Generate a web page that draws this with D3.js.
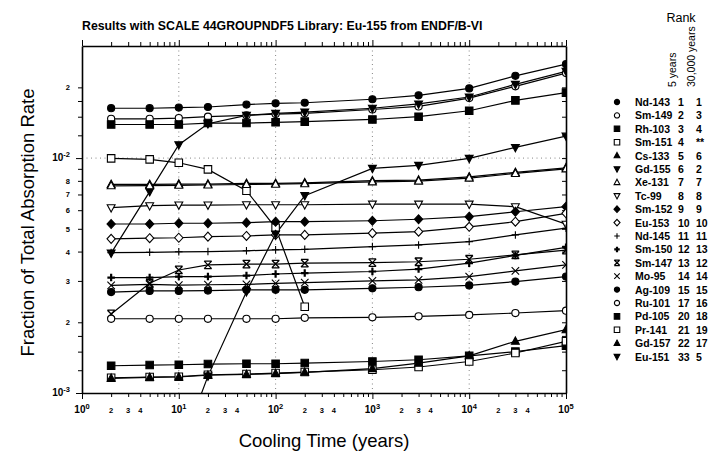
<!DOCTYPE html>
<html>
<head>
<meta charset="utf-8">
<script src="https://cdn.jsdelivr.net/npm/d3@7"></script>
<style>
  body { margin: 0; background: #fff; }
  svg { display: block; }
  text { font-family: "Liberation Sans", Arial, Helvetica, sans-serif; fill: #000; }
</style>
</head>
<body>
<div id="chart"></div>
<script>
// cooling times (years) where every nuclide was evaluated
const years = [2, 5, 10, 20, 50, 100, 200, 1000, 3000, 10000, 30000, 100000];

// fraction of total absorption rate
const nd143 = [1.63e-2, 1.63e-2, 1.64e-2, 1.65e-2, 1.69e-2, 1.71e-2, 1.72e-2, 1.78e-2, 1.85e-2, 1.98e-2, 2.24e-2, 2.51e-2];
const sm149 = [1.47e-2, 1.47e-2, 1.48e-2, 1.50e-2, 1.52e-2, 1.54e-2, 1.55e-2, 1.61e-2, 1.66e-2, 1.80e-2, 2.02e-2, 2.30e-2];
const rh103 = [1.39e-2, 1.39e-2, 1.39e-2, 1.41e-2, 1.41e-2, 1.42e-2, 1.43e-2, 1.46e-2, 1.50e-2, 1.59e-2, 1.76e-2, 1.90e-2];
const sm151 = [9.97e-3, 9.87e-3, 9.55e-3, 8.95e-3, 7.26e-3, 5.05e-3, 2.33e-3, null, null, null, null, null];
const cs133 = [7.73e-3, 7.73e-3, 7.75e-3, 7.75e-3, 7.80e-3, 7.80e-3, 7.85e-3, 8.01e-3, 8.06e-3, 8.32e-3, 8.69e-3, 9.09e-3];
const gd155 = [3.94e-3, 7.2e-3, 1.14e-2, 1.40e-2, 1.52e-2, 1.55e-2, 1.57e-2, 1.63e-2, 1.70e-2, 1.82e-2, 2.06e-2, 2.34e-2];
const xe131 = [7.62e-3, 7.63e-3, 7.66e-3, 7.68e-3, 7.72e-3, 7.74e-3, 7.78e-3, 7.92e-3, 7.98e-3, 8.22e-3, 8.60e-3, 9.00e-3];
const tc99  = [6.15e-3, 6.27e-3, 6.31e-3, 6.31e-3, 6.33e-3, 6.33e-3, 6.33e-3, 6.37e-3, 6.37e-3, 6.37e-3, 6.21e-3, 5.23e-3];
const sm152 = [5.24e-3, 5.24e-3, 5.28e-3, 5.28e-3, 5.31e-3, 5.36e-3, 5.36e-3, 5.41e-3, 5.49e-3, 5.63e-3, 5.91e-3, 6.21e-3];
const eu153 = [4.53e-3, 4.56e-3, 4.58e-3, 4.63e-3, 4.66e-3, 4.71e-3, 4.71e-3, 4.79e-3, 4.86e-3, 5.10e-3, 5.36e-3, 5.82e-3];
const nd145 = [3.96e-3, 3.97e-3, 3.99e-3, 4.00e-3, 4.03e-3, 4.07e-3, 4.09e-3, 4.20e-3, 4.27e-3, 4.41e-3, 4.71e-3, 5.03e-3];
const sm150 = [3.10e-3, 3.10e-3, 3.13e-3, 3.13e-3, 3.16e-3, 3.21e-3, 3.24e-3, 3.29e-3, 3.37e-3, 3.57e-3, 3.85e-3, 4.17e-3];
const sm147 = [2.17e-3, 2.93e-3, 3.34e-3, 3.51e-3, 3.54e-3, 3.54e-3, 3.57e-3, 3.59e-3, 3.62e-3, 3.71e-3, 3.87e-3, 4.06e-3];
const mo95  = [2.87e-3, 2.90e-3, 2.88e-3, 2.89e-3, 2.90e-3, 2.93e-3, 2.95e-3, 3.00e-3, 3.03e-3, 3.13e-3, 3.31e-3, 3.51e-3];
const ag109 = [2.69e-3, 2.72e-3, 2.72e-3, 2.73e-3, 2.75e-3, 2.75e-3, 2.75e-3, 2.79e-3, 2.82e-3, 2.87e-3, 2.98e-3, 3.13e-3];
const ru101 = [2.07e-3, 2.07e-3, 2.07e-3, 2.07e-3, 2.07e-3, 2.07e-3, 2.09e-3, 2.10e-3, 2.12e-3, 2.15e-3, 2.19e-3, 2.24e-3];
const pd105 = [1.306e-3, 1.315e-3, 1.319e-3, 1.328e-3, 1.332e-3, 1.332e-3, 1.341e-3, 1.362e-3, 1.385e-3, 1.44e-3, 1.50e-3, 1.59e-3];
const pr141 = [1.161e-3, 1.17e-3, 1.173e-3, 1.196e-3, 1.204e-3, 1.216e-3, 1.228e-3, 1.256e-3, 1.29e-3, 1.362e-3, 1.48e-3, 1.66e-3];
const gd157 = [1.155e-3, 1.165e-3, 1.17e-3, 1.19e-3, 1.20e-3, 1.21e-3, 1.225e-3, 1.27e-3, 1.34e-3, 1.44e-3, 1.66e-3, 1.86e-3];
const eu151 = [null, null, 5.5e-4, 1.18e-3, 2.70e-3, 4.75e-3, 6.92e-3, 9.04e-3, 9.31e-3, 9.97e-3, 1.11e-2, 1.24e-2];

// legend: name, marker, rank at 5 years, rank at 30,000 years
const names   = ["Nd-143", "Sm-149", "Rh-103", "Sm-151", "Cs-133", "Gd-155", "Xe-131", "Tc-99", "Sm-152", "Eu-153",
                 "Nd-145", "Sm-150", "Sm-147", "Mo-95", "Ag-109", "Ru-101", "Pd-105", "Pr-141", "Gd-157", "Eu-151"];
const markers = ["dot", "circle", "square", "osquare", "tri", "dtri", "otri", "odtri", "diamond", "odiamond",
                 "plus", "bplus", "bowtie", "cross", "dot", "circle", "square", "osquare", "tri", "dtri"];
const rank5   = ["1", "2", "3", "4", "5", "6", "7", "8", "9", "10", "11", "12", "13", "14", "15", "17", "20", "21", "22", "33"];
const rank30k = ["1", "3", "4", "**", "6", "2", "7", "8", "9", "10", "11", "13", "12", "14", "15", "16", "18", "19", "17", "5"];
const values  = [nd143, sm149, rh103, sm151, cs133, gd155, xe131, tc99, sm152, eu153,
                 nd145, sm150, sm147, mo95, ag109, ru101, pd105, pr141, gd157, eu151];

const W = 716, H = 454;
const MARGIN = { LEFT: 82, TOP: 46, RIGHT: 150, BOTTOM: 61 };
const WIDTH = W - MARGIN.LEFT - MARGIN.RIGHT;
const HEIGHT = H - MARGIN.TOP - MARGIN.BOTTOM;

const svg = d3.select("#chart").append("svg")
    .attr("width", W)
    .attr("height", H);

const g = svg.append("g")
    .attr("transform", `translate(${MARGIN.LEFT},${MARGIN.TOP})`);

const x = d3.scaleLog().domain([1, 1e5]).range([0, WIDTH]);
const y = d3.scaleLog().domain([1e-3, 3e-2]).range([HEIGHT, 0]);

// tick lists
const xTicks = [];
for (let d = 0; d < 5; d++) for (let k = 1; k < 10; k++) xTicks.push(k * 10 ** d);
xTicks.push(1e5);
const yTicks = [1e-3, 1.25e-3, 1.5e-3, 1.75e-3, 2e-3, 3e-3, 4e-3, 5e-3, 6e-3, 7e-3, 8e-3, 9e-3,
                1e-2, 1.25e-2, 1.5e-2, 1.75e-2, 2e-2];
const isDecade = v => Math.abs(Math.log10(v) - Math.round(Math.log10(v))) < 1e-9;
const mant = v => v / 10 ** Math.floor(Math.log10(v) + 1e-9);

// dotted grid
g.append("g").selectAll("line")
    .data([10, 100, 1000, 10000])
    .enter().append("line")
    .attr("x1", d => x(d)).attr("x2", d => x(d))
    .attr("y1", 0).attr("y2", HEIGHT)
    .attr("stroke", "#666").attr("stroke-width", 0.8)
    .attr("stroke-dasharray", "1,3.5");
g.append("line")
    .attr("x1", 0).attr("x2", WIDTH)
    .attr("y1", y(1e-2)).attr("y2", y(1e-2))
    .attr("stroke", "#666").attr("stroke-width", 0.8)
    .attr("stroke-dasharray", "1,3.5");

// axes
const styleAxis = sel => {
    sel.select(".domain").attr("stroke", "#000").attr("stroke-width", 1.6);
    sel.selectAll(".tick line").attr("stroke", "#000").attr("stroke-width", 1);
};
const axisB = g.append("g").attr("transform", `translate(0,${HEIGHT})`)
    .call(d3.axisBottom(x).tickValues(xTicks).tickSize(4).tickSizeOuter(0).tickFormat(""))
    .call(styleAxis);
const axisT = g.append("g")
    .call(d3.axisTop(x).tickValues(xTicks).tickSize(4).tickSizeOuter(0).tickFormat(""))
    .call(styleAxis);
const axisL = g.append("g")
    .call(d3.axisLeft(y).tickValues(yTicks).tickSize(4).tickSizeOuter(0).tickFormat(""))
    .call(styleAxis);
const axisR = g.append("g").attr("transform", `translate(${WIDTH},0)`)
    .call(d3.axisRight(y).tickValues(yTicks).tickSize(-4).tickSizeOuter(0).tickFormat(""))
    .call(styleAxis);
axisB.selectAll(".tick line").filter(d => isDecade(d)).attr("y2", 6);
axisT.selectAll(".tick line").filter(d => isDecade(d)).attr("y2", -6);
axisL.selectAll(".tick line").filter(d => isDecade(d)).attr("x2", -6);

// x tick labels: 10^n and 2, 3, 4
xTicks.filter(v => isDecade(v) || [2, 3, 4].includes(Math.round(mant(v)))).forEach(v => {
    const t = g.append("text")
        .attr("x", x(v)).attr("y", HEIGHT + 20)
        .attr("text-anchor", "middle")
        .attr("font-weight", "bold");
    if (isDecade(v)) {
        t.attr("font-size", 10).text("10")
            .append("tspan").attr("dy", -4).attr("font-size", 7.5)
            .text(String(Math.round(Math.log10(v))));
    } else {
        t.attr("font-size", 7.5).text(Math.round(mant(v)));
    }
});

// y tick labels
yTicks.filter(v => isDecade(v) || ![1.25, 1.5, 1.75, 9].some(k => Math.abs(mant(v) - k) < 1e-6))
    .forEach(v => {
        const t = g.append("text")
            .attr("x", -12).attr("y", y(v) + 3)
            .attr("text-anchor", "end")
            .attr("font-weight", "bold");
        if (isDecade(v)) {
            t.attr("font-size", 10).text("10")
                .append("tspan").attr("dy", -4).attr("font-size", 7.5)
                .text("-" + String(-Math.round(Math.log10(v))));
        } else {
            t.attr("font-size", 7.5).text(Math.round(mant(v)));
        }
    });

// marker drawing
function drawMarker(sel, kind, s) {
    const h = s / 2;
    const filled = ["dot", "square", "tri", "dtri", "diamond"].includes(kind);
    const fill = filled ? "#000" : "#fff";
    let p;
    switch (kind) {
        case "dot": case "circle":
            sel.append("circle").attr("r", h * 0.95).attr("fill", fill)
                .attr("stroke", "#000").attr("stroke-width", 1.1);
            return;
        case "square": case "osquare":
            p = `M${-h},${-h}H${h}V${h}H${-h}Z`; break;
        case "tri": case "otri":
            p = `M0,${-h * 1.15}L${h * 1.05},${h * 0.8}L${-h * 1.05},${h * 0.8}Z`; break;
        case "dtri": case "odtri":
            p = `M0,${h * 1.15}L${h * 1.05},${-h * 0.8}L${-h * 1.05},${-h * 0.8}Z`; break;
        case "diamond": case "odiamond":
            p = `M0,${-h * 1.2}L${h * 1.1},0L0,${h * 1.2}L${-h * 1.1},0Z`; break;
        case "plus":
            sel.append("path").attr("d", `M${-h},0H${h}M0,${-h}V${h}`)
                .attr("stroke", "#000").attr("stroke-width", 1.1).attr("fill", "none");
            return;
        case "bplus":
            sel.append("path").attr("d", `M${-h},0H${h}M0,${-h}V${h}`)
                .attr("stroke", "#000").attr("stroke-width", 2.2).attr("fill", "none");
            return;
        case "bowtie":
            sel.append("path").attr("d", `M${-h},${-h}L${h},${h}M${h},${-h}L${-h},${h}M${-h},${-h}H${h}M${-h},${h}H${h}`)
                .attr("stroke", "#000").attr("stroke-width", 1.3).attr("fill", "none");
            return;
        case "cross":
            sel.append("path").attr("d", `M${-h},${-h}L${h},${h}M${h},${-h}L${-h},${h}`)
                .attr("stroke", "#000").attr("stroke-width", 1.1).attr("fill", "none");
            return;
    }
    sel.append("path").attr("d", p).attr("fill", fill)
        .attr("stroke", "#000").attr("stroke-width", 1.1);
}

// series
svg.append("defs").append("clipPath").attr("id", "plotClip")
    .append("rect").attr("width", WIDTH).attr("height", HEIGHT);
const plot = g.append("g").attr("clip-path", "url(#plotClip)");

const line = d3.line()
    .defined(d => d.v != null)
    .x(d => x(d.t))
    .y(d => y(d.v));

names.forEach((name, i) => {
    const pts = years.map((t, j) => ({ t: t, v: values[i][j] }));
    plot.append("path")
        .datum(pts)
        .attr("d", line)
        .attr("fill", "none")
        .attr("stroke", "#000")
        .attr("stroke-width", 1.2);
});
names.forEach((name, i) => {
    const pts = years.map((t, j) => ({ t: t, v: values[i][j] })).filter(d => d.v != null);
    plot.selectAll(null)
        .data(pts)
        .enter().append("g")
        .attr("transform", d => `translate(${x(d.t)},${y(d.v)})`)
        .each(function () { drawMarker(d3.select(this), markers[i], 7.5); });
});

// titles
svg.append("text")
    .attr("x", MARGIN.LEFT).attr("y", 30)
    .attr("font-size", 12.3).attr("font-weight", "bold")
    .text("Results with SCALE 44GROUPNDF5 Library: Eu-155 from ENDF/B-VI");
svg.append("text")
    .attr("transform", `translate(34,${MARGIN.TOP + HEIGHT / 2 + 3}) rotate(-90)`)
    .attr("text-anchor", "middle")
    .attr("font-size", 18.5)
    .text("Fraction of Total Absorption Rate");
svg.append("text")
    .attr("x", MARGIN.LEFT + WIDTH / 2).attr("y", 447)
    .attr("text-anchor", "middle")
    .attr("font-size", 18.5)
    .text("Cooling Time (years)");

// legend with ranks
const LEG = { SYM: 617, NAME: 635, R5: 678, R30: 696, TOP: 102, STEP: 13.4 };
svg.append("text").attr("x", 681).attr("y", 22)
    .attr("text-anchor", "middle").attr("font-size", 12.5).text("Rank");
svg.append("text")
    .attr("transform", `translate(676,87) rotate(-90)`)
    .attr("font-size", 10.5).text("5 years");
svg.append("text")
    .attr("transform", `translate(695,87) rotate(-90)`)
    .attr("font-size", 10.5).text("30,000 years");

const rows = svg.append("g").selectAll("g")
    .data(names)
    .enter().append("g")
    .attr("transform", (d, i) => `translate(0,${LEG.TOP + i * LEG.STEP})`);
rows.append("g").attr("transform", `translate(${LEG.SYM},0)`)
    .each(function (d, i) { drawMarker(d3.select(this), markers[i], 5.5); });
rows.append("text").attr("x", LEG.NAME).attr("y", 4)
    .attr("font-size", 10.5).attr("font-weight", "bold").text(d => d);
rows.append("text").attr("x", LEG.R5).attr("y", 4)
    .attr("font-size", 10.5).attr("font-weight", "bold").text((d, i) => rank5[i]);
rows.append("text").attr("x", LEG.R30).attr("y", 4)
    .attr("font-size", 10.5).attr("font-weight", "bold").text((d, i) => rank30k[i]);
</script>
</body>
</html>
